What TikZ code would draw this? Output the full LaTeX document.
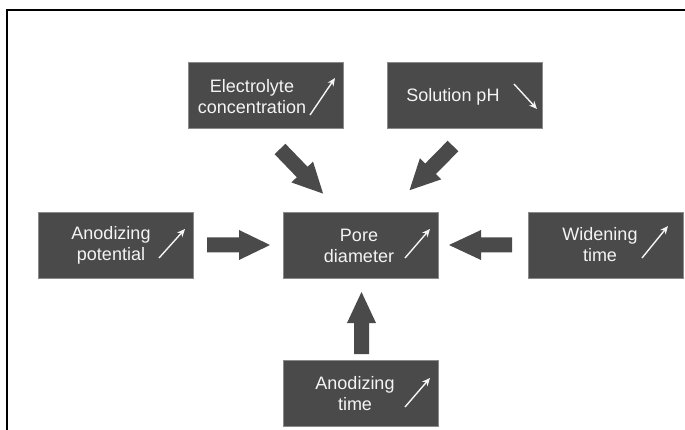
\documentclass[tikz,border=0pt]{standalone}
\usepackage{fontspec}
\setmainfont{Liberation Sans}
\usetikzlibrary{arrows.meta}
\definecolor{boxgray}{HTML}{4A4A4A}
\definecolor{edgegray}{HTML}{8A8A8A}
\definecolor{txtwhite}{HTML}{F4F4F4}
\tikzset{
  box/.style={fill=boxgray, draw=edgegray, line width=0.6pt, minimum width=155pt, minimum height=66pt, inner sep=0pt},
  lbl/.style={text=txtwhite, align=center, inner sep=0pt, font=\fontsize{18}{21}\selectfont},
  trend/.style={draw=txtwhite, line width=1.4pt, -{Stealth[length=8pt,width=7pt]}},
  blockfill/.style={fill=boxgray},
}
% block arrow: #1 tail coordinate, #2 angle (canvas), #3 length, #4 head length, #5 shaft half width, #6 head half width
\newcommand{\blockarrowdraw}[6]{%
  \begin{scope}[shift={(#1)}, rotate=#2]
    \fill[blockfill] (0pt,-#5pt) -- ({#3pt-#4pt},-#5pt) -- ({#3pt-#4pt},-#6pt) -- (#3pt,0pt)
      -- ({#3pt-#4pt},#6pt) -- ({#3pt-#4pt},#5pt) -- (0pt,#5pt) -- cycle;
  \end{scope}}
\begin{document}
\begin{tikzpicture}[x=1pt, y=-1pt]
\useasboundingbox (0,0) rectangle (685,430);
% frame
\draw[line width=2pt] (7,430) -- (7,10) -- (685,10);

% boxes
\node[box] (elec) at (265.5,95) {};
\node[box] (ph) at (465,95) {};
\node[box] (pot) at (116,245) {};
\node[box] (pore) at (360.5,245) {};
\node[box] (wid) at (605.5,245) {};
\node[box] (time) at (361,393.5) {};

% labels
\node[lbl] (elecT) at (252,97) {Electrolyte\\concentration};
\node[lbl] (phT) at (453,97) {Solution pH};
\node[lbl] (potT) at (111,245) {Anodizing\\potential};
\node[lbl] (poreT) at (359,246) {Pore\\diameter};
\node[lbl] (widT) at (600,245) {Widening\\time};
\node[lbl] (timeT) at (355,394) {Anodizing\\time};

% trend arrows
\coordinate (e1) at (310,115); \coordinate (e2) at (335,78);
\coordinate (p1) at (514,84);  \coordinate (p2) at (537,109);
\coordinate (a1) at (159,258); \coordinate (a2) at (185,229);
\coordinate (d1) at (405,258); \coordinate (d2) at (430,229);
\coordinate (w1) at (642,258); \coordinate (w2) at (668,226);
\coordinate (t1) at (405,407); \coordinate (t2) at (430,378);
\draw[trend] (e1) -- (e2);
\draw[trend] (p1) -- (p2);
\draw[trend] (a1) -- (a2);
\draw[trend] (d1) -- (d2);
\draw[trend] (w1) -- (w2);
\draw[trend] (t1) -- (t2);

% block arrows
\coordinate (ba1) at (207,245);
\coordinate (ba2) at (512,245);
\coordinate (ba3) at (361.5,354);
\coordinate (ba4) at (280,149);
\coordinate (ba5) at (453,146);
\blockarrowdraw{ba1}{0}{63}{31}{7.5}{15}
\blockarrowdraw{ba2}{180}{63}{32}{7.5}{15}
\blockarrowdraw{ba3}{90}{62}{31}{7.5}{14.5}
\blockarrowdraw{ba4}{-46}{62}{30}{7.5}{15}
\blockarrowdraw{ba5}{-134.5}{62}{30}{7.5}{15}
\end{tikzpicture}
\end{document}
